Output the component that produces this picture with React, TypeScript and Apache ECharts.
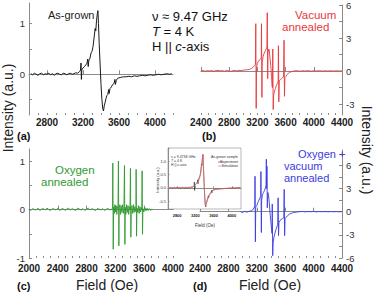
import React, { useEffect, useRef } from 'react';
import * as echarts from 'echarts';

// ---------- data (field in Oe, intensity in a.u.) ----------
const asGrown: number[][] = [
  [2620, 0.01], [2640, -0.01], [2660, 0.02], [2680, 0], [2700, -0.02], [2720, 0.01], [2740, 0.02], [2760, -0.01],
  [2780, 0.01], [2800, 0], [2820, 0.02], [2840, -0.01], [2860, 0.01], [2880, -0.02], [2900, 0.01], [2920, 0.02],
  [2940, 0], [2960, -0.01], [2980, 0.02], [3000, 0.01], [3020, -0.01], [3040, 0.01], [3060, 0.02], [3080, 0],
  [3100, 0.01], [3120, 0.03], [3140, 0.02], [3160, 0.05], [3172, 0.08], [3178, 0.22], [3182, -0.1], [3188, 0.1],
  [3200, 0.12], [3215, 0.15], [3230, 0.18], [3245, 0.22], [3252, 0.3], [3258, 0.15], [3265, 0.28], [3275, 0.3],
  [3290, 0.42], [3300, 0.45], [3312, 0.55], [3325, 0.75], [3335, 0.9], [3342, 0.85], [3350, 1.05], [3360, 1.2],
  [3366, 1.25], [3372, 1.0], [3380, 0.6], [3390, 0.2], [3400, -0.2], [3410, -0.5], [3420, -0.68], [3428, -0.72],
  [3436, -0.62], [3446, -0.55], [3455, -0.48], [3465, -0.42], [3475, -0.4], [3485, -0.3], [3490, -0.38], [3500, -0.28],
  [3515, -0.25], [3530, -0.2], [3545, -0.18], [3555, -0.1], [3560, -0.2], [3570, -0.12], [3585, -0.08], [3600, -0.07],
  [3620, -0.06], [3650, -0.05], [3680, -0.05], [3710, -0.04], [3740, -0.05], [3770, -0.03], [3800, -0.04], [3830, -0.03],
  [3860, -0.02], [3890, -0.03], [3920, -0.02], [3950, -0.01], [3980, -0.02], [4010, -0.01], [4040, 0], [4070, -0.01],
  [4100, 0], [4130, 0.01], [4160, 0], [4185, 0.01],
];

const simulation: number[][] = [
  [2620, 0], [3000, 0.01], [3150, 0.05], [3250, 0.2], [3300, 0.4], [3340, 0.8], [3366, 1.27], [3380, 0.7],
  [3400, -0.1], [3425, -0.66], [3450, -0.55], [3500, -0.3], [3560, -0.15], [3650, -0.06], [3800, -0.03],
  [4000, -0.01], [4185, 0],
];

const vacuumAnnealed: number[][] = [
  [2400, 0], [2430, 0.05], [2460, -0.03], [2490, 0.04], [2520, 0], [2550, 0.05], [2580, -0.02], [2610, 0.03],
  [2640, 0.06], [2670, 0], [2700, 0.04], [2730, -0.03], [2760, 0.05], [2790, 0.02], [2820, -0.04], [2850, 0.03],
  [2880, 0.05], [2910, 0], [2940, 0.06], [2970, 0.04], [3000, 0.08], [3030, 0.1], [3060, 0.12], [3090, 0.15],
  [3120, 0.25], [3140, 0.35], [3160, 0.5],
  [3172, 0.6], [3177, 4.3], [3183, -3.4], [3188, 0.3], [3200, 0.7], [3215, 0.9], [3230, 1.0], [3245, 1.1],
  [3255, 1.2], [3258, 4.3], [3264, -2.4], [3268, 0.8], [3280, 1.3], [3295, 1.6], [3310, 1.8], [3325, 2.0],
  [3335, 2.2], [3340, 5.3], [3346, -0.7], [3350, 1.6], [3360, 2.0], [3368, 1.9], [3378, 1.2], [3390, 0.5],
  [3400, -0.5], [3408, -1.4], [3414, -1.5], [3418, 2.0], [3424, -3.5], [3430, -2.2], [3440, -1.9], [3455, -1.6],
  [3470, -1.3], [3485, -1.1], [3494, -1.0], [3498, 2.3], [3504, -2.8], [3510, -0.9], [3525, -0.8], [3540, -0.7],
  [3555, -0.6], [3570, -0.55], [3574, -0.5], [3578, 2.8], [3584, -2.3], [3590, -0.6], [3605, -0.5], [3620, -0.35],
  [3640, -0.2], [3660, -0.1], [3690, -0.05], [3720, 0], [3760, 0.03], [3800, -0.02], [3840, 0.02], [3880, 0],
  [3920, 0.03], [3960, -0.02], [4000, 0.02], [4040, 0], [4080, 0.03], [4120, -0.01], [4160, 0.02], [4200, 0],
  [4240, 0.02], [4280, -0.01], [4320, 0.02], [4360, 0], [4400, 0.01],
];

const oxygenAnnealed: number[][] = [
  [2000, 0.01], [2025, -0.02], [2050, 0.02], [2075, 0], [2100, -0.01], [2125, 0.03], [2150, -0.02], [2175, 0.01],
  [2200, 0.02], [2225, -0.01], [2250, 0.03], [2275, 0], [2300, -0.02], [2325, 0.02], [2350, 0.01], [2375, -0.01],
  [2400, 0.03], [2425, -0.02], [2450, 0.01], [2475, 0.02], [2500, -0.02], [2525, 0.01], [2550, 0.03], [2575, -0.01],
  [2600, 0.02], [2625, 0], [2650, -0.02], [2675, 0.03], [2700, 0.01], [2725, -0.01], [2750, 0.02], [2775, -0.02],
  [2800, 0.01], [2825, 0.03], [2850, -0.01], [2875, 0.02], [2900, 0], [2925, -0.02], [2950, 0.02], [2975, 0.01],
  [3000, -0.01], [3025, 0.02], [3050, -0.02], [3075, 0.01], [3100, 0.02], [3125, -0.01], [3150, 0.01],
  [3160, 0.02], [3164, 0.96], [3170, -0.82], [3175, 0.05], [3185, -0.08], [3192, 0.1], [3200, -0.05], [3210, 0.08],
  [3220, -0.1], [3228, 0.06], [3236, 0.02], [3242, 1.0], [3248, -0.75], [3253, 0.04], [3262, 0.1], [3270, -0.1],
  [3280, 0.08], [3290, -0.06], [3300, 0.1], [3310, -0.08], [3318, 0.03], [3326, 0.91], [3332, -0.72], [3337, 0.05],
  [3345, -0.1], [3355, 0.1], [3365, -0.06], [3375, 0.08], [3385, -0.1], [3395, 0.06], [3403, 0], [3409, 0.85],
  [3415, -0.57], [3420, 0.04], [3430, 0.08], [3440, -0.08], [3450, 0.1], [3460, -0.06], [3470, 0.06], [3480, -0.04],
  [3485, 0.01], [3488, 0.83], [3494, -0.55], [3499, 0.03], [3510, -0.06], [3520, 0.08], [3530, -0.08], [3540, 0.06],
  [3550, -0.05], [3560, 0.04], [3566, 0], [3571, 0.8], [3577, -0.51], [3582, 0.02], [3595, -0.05], [3610, 0.04],
  [3625, -0.03], [3640, 0.03], [3655, -0.02], [3670, 0.02], [3690, -0.02], [3705, 0.01], [3720, 0],
];

const oxygenVacuumAnnealed: number[][] = [
  [2970, 0], [3000, -0.1], [3030, 0.05], [3060, -0.05], [3090, 0.05], [3120, 0.1], [3150, 0.3], [3165, 0.6],
  [3172, 0.8], [3175, 4.6], [3180, -3.9], [3185, 0.6], [3200, 0.8], [3215, 1.2], [3230, 1.5], [3245, 1.8],
  [3255, 2.0], [3258, 5.2], [3264, -2.7], [3268, 1.5], [3280, 2.2], [3295, 2.5], [3310, 2.8], [3325, 3.2],
  [3330, 3.5], [3334, 6.8], [3339, 3.0], [3343, 5.9], [3348, 0.5], [3355, 2.5], [3365, 2.2], [3375, 1.2],
  [3390, -0.5], [3405, -2.0], [3414, -2.8], [3418, 1.0], [3424, -5.7], [3430, -4.0], [3440, -3.4], [3455, -2.8],
  [3470, -2.3], [3485, -1.9], [3495, -1.7], [3500, 1.8], [3506, -3.1], [3512, -1.4], [3525, -1.2], [3540, -1.0],
  [3560, -0.9], [3580, -0.8], [3586, 2.9], [3592, -3.1], [3598, -0.9], [3615, -0.7], [3635, -0.5], [3660, -0.3],
  [3690, -0.2], [3720, -0.1], [3760, -0.05], [3800, 0], [3840, 0.03], [3880, -0.02], [3920, 0.02], [3960, 0],
  [4000, 0.03], [4040, -0.02], [4080, 0.02], [4120, 0], [4160, 0.02], [4200, -0.01], [4240, 0.02], [4280, 0],
  [4320, 0.01], [4360, -0.01], [4400, 0.01],
];

// ---------- tick labels ----------
const ticksA = [2800, 3200, 3600, 4000];
const ticksB = [2400, 2800, 3200, 3600, 4000, 4400];
const ticksC = [2000, 2400, 2800, 3200, 3600, 4000];
const ticksD = [2400, 2800, 3200, 3600, 4000, 4400];
const ticksInset = [2800, 3200, 3600, 4000];
const yLabelsA = [0, 1];
const yLabelsB = [-3, 0, 3, 6];
const yLabelsC = [-1, 0, 1];
const yLabelsD = [-6, -3, 0, 3, 6];
const yLabelsInset = [-0.5, 0, 0.5, 1];

const FONT = 'Liberation Sans, Arial, sans-serif';
const AXIS = '#8a8a8a';
const RED = '#e8383c';
const GREEN = '#2f9a2f';
const BLUE = '#3b3be0';

function steps(min: number, max: number, step: number) {
  const out: number[] = [];
  for (let v = min; v <= max + 1e-9; v += step) out.push(Math.round(v * 1000) / 1000);
  return out;
}

const plain = (v: number) => String(v);

function xMain(grid: number, min: number, max: number, labels: number[], fs = 10, len = 4, margin = 2) {
  return {
    type: 'value', gridIndex: grid, min, max, position: 'bottom',
    axisLine: { show: true, lineStyle: { color: AXIS, width: 1 } },
    axisTick: { show: true, inside: true, length: len, customValues: labels, lineStyle: { color: AXIS } },
    axisLabel: { show: true, customValues: labels, fontSize: fs, fontWeight: 'bold', color: '#222', fontFamily: FONT, margin, formatter: plain },
    splitLine: { show: false },
  };
}
function xMinor(grid: number, min: number, max: number, step: number, len = 2) {
  return {
    type: 'value', gridIndex: grid, min, max, position: 'bottom',
    axisLine: { show: false },
    axisTick: { show: true, inside: true, length: len, customValues: steps(min, max, step), lineStyle: { color: AXIS } },
    axisLabel: { show: false },
    splitLine: { show: false },
  };
}
function yAxis(grid: number, min: number, max: number, labels: number[], tickStep: number, pos: string, fs = 9.5, fmt?: (v: number) => string, len = 3, margin = 4) {
  const first = Math.ceil(min / tickStep) * tickStep;
  return {
    type: 'value', gridIndex: grid, min, max, position: pos,
    axisLine: { show: true, lineStyle: { color: AXIS, width: 1 } },
    axisTick: { show: true, inside: true, length: len, customValues: steps(first, max, tickStep), lineStyle: { color: AXIS } },
    axisLabel: { show: true, customValues: labels, fontSize: fs, color: '#333', fontFamily: FONT, margin, formatter: fmt || plain },
    splitLine: { show: false },
  };
}

function txt(text: string, x: number, y: number, size: number, fill: string, extra: any = {}) {
  const { align, weight, rotation, rich, z } = extra;
  return {
    type: 'text', x, y, rotation: rotation || 0, z: z || 20,
    style: {
      text, fill, fontSize: size, fontFamily: FONT, fontWeight: weight || 'normal',
      align: align || 'left', verticalAlign: 'middle', rich,
    },
  };
}

export default function App() {
  const ref = useRef<HTMLDivElement>(null);
  useEffect(() => {
    if (!ref.current) return;
    const chart = echarts.init(ref.current, undefined, { renderer: 'svg' });
    const italic = { i: { fontStyle: 'italic', fontSize: 13, fontFamily: FONT, fill: '#111' } };
    const italicSmall = { i: { fontStyle: 'italic', fontSize: 3.5, fontFamily: FONT, fill: '#333' } };
    const option: any = {
      animation: false,
      backgroundColor: '#fff',
      grid: [
        { left: 29, top: 3, width: 144, height: 112 },
        { left: 201, top: 4, width: 141, height: 111 },
        { left: 29, top: 149, width: 144, height: 109 },
        { left: 200, top: 150, width: 142, height: 108 },
        { left: 168, top: 148, width: 73, height: 61, show: true, backgroundColor: '#fff', borderColor: AXIS, borderWidth: 0.6, z: 5 },
      ],
      xAxis: [
        xMain(0, 2600, 4200, ticksA), xMinor(0, 2600, 4200, 100),
        xMain(1, 2400, 4400, ticksB), xMinor(1, 2400, 4400, 100),
        xMain(2, 2000, 4000, ticksC, 10, 4, 5), xMinor(2, 2000, 4000, 100),
        xMain(3, 2400, 4400, ticksD, 10, 4, 5), xMinor(3, 2400, 4400, 100),
        { ...xMain(4, 2600, 4200, ticksInset, 4, 1.5, 4), z: 6 },
      ],
      yAxis: [
        yAxis(0, -0.8, 1.4, yLabelsA, 0.5, 'left'),
        yAxis(1, -4, 6, yLabelsB, 1.5, 'right'),
        yAxis(2, -1, 1.25, yLabelsC, 0.5, 'left'),
        yAxis(3, -6, 8, yLabelsD, 1.5, 'right'),
        { ...yAxis(4, -0.8, 1.5, yLabelsInset, 0.5, 'left', 4, (v: number) => v.toFixed(1), 1.5, 2), z: 6 },
      ],
      series: [
        { type: 'line', xAxisIndex: 0, yAxisIndex: 0, data: asGrown, showSymbol: false, lineStyle: { color: '#1a1a1a', width: 1 } },
        { type: 'line', xAxisIndex: 2, yAxisIndex: 1, data: vacuumAnnealed, showSymbol: false, lineStyle: { color: RED, width: 0.9 } },
        { type: 'line', xAxisIndex: 4, yAxisIndex: 2, data: oxygenAnnealed, showSymbol: false, lineStyle: { color: GREEN, width: 0.9 } },
        { type: 'line', xAxisIndex: 6, yAxisIndex: 3, data: oxygenVacuumAnnealed, showSymbol: false, lineStyle: { color: BLUE, width: 0.9 } },
        { type: 'line', xAxisIndex: 8, yAxisIndex: 4, data: asGrown, showSymbol: false, z: 7, lineStyle: { color: '#222', width: 0.6 } },
        { type: 'line', xAxisIndex: 8, yAxisIndex: 4, data: simulation, showSymbol: false, smooth: 0.3, z: 7, lineStyle: { color: '#f06a6a', width: 0.9, opacity: 0.85 } },
      ],
      graphic: [
        txt('As-grown', 48, 15, 11, '#222'),
        txt('ν ≈ 9.47 GHz', 152, 16, 13, '#111'),
        txt('{i|T} = 4 K', 152, 31, 13, '#111', { rich: italic }),
        txt('H || {i|c}-axis', 152, 46, 13, '#111', { rich: italic }),
        txt('Vacuum', 295, 15, 11.5, RED),
        txt('annealed', 282, 27, 11.5, RED),
        txt('Oxygen', 55, 170, 11.5, GREEN),
        txt('annealed', 41, 182, 11.5, GREEN),
        txt('Oxygen +', 298, 154, 11, BLUE),
        txt('vacuum', 284, 166, 11, BLUE),
        txt('annealed', 284, 178, 11, BLUE),
        txt('(a)', 17, 136, 11, '#111', { weight: 'bold' }),
        txt('(b)', 202, 136, 11, '#111', { weight: 'bold' }),
        txt('(c)', 17, 286, 11, '#111', { weight: 'bold' }),
        txt('(d)', 193, 286, 11, '#111', { weight: 'bold' }),
        txt('Field (Oe)', 107, 285, 14, '#222', { align: 'center' }),
        txt('Field (Oe)', 270, 285, 14, '#222', { align: 'center' }),
        txt('Intensity (a.u.)', 8, 108, 14, '#222', { align: 'center', rotation: Math.PI / 2 }),
        txt('Intensity (a.u.)', 367, 150, 14, '#222', { align: 'center', rotation: -Math.PI / 2 }),
        // inset texts
        txt('ν = 9.4738 GHz', 171, 157, 3.5, '#333'),
        txt('{i|T} = 4 K', 171, 161, 3.5, '#333', { rich: italicSmall }),
        txt('H || {i|c}-axis', 171, 165, 3.5, '#333', { rich: italicSmall }),
        txt('As-grown sample', 238, 157, 3.5, '#333', { align: 'right' }),
        { type: 'line', z: 20, shape: { x1: 218, y1: 162, x2: 223, y2: 162 }, style: { stroke: '#222', lineWidth: 0.5 } },
        txt('Experiment', 238, 162, 3.5, '#333', { align: 'right' }),
        { type: 'line', z: 20, shape: { x1: 218, y1: 166, x2: 223, y2: 166 }, style: { stroke: '#f06a6a', lineWidth: 0.6 } },
        txt('Simulation', 238, 166, 3.5, '#333', { align: 'right' }),
        txt('Intensity (a.u.)', 157, 180, 4, '#333', { align: 'center', rotation: Math.PI / 2 }),
        txt('Field (Oe)', 205, 225, 4.5, '#333', { align: 'center' }),
      ],
    };
    chart.setOption(option);
    return () => chart.dispose();
  }, []);
  return <div ref={ref} style={{ position: 'absolute', left: 0, top: 0, width: 374, height: 292 }} />;
}
